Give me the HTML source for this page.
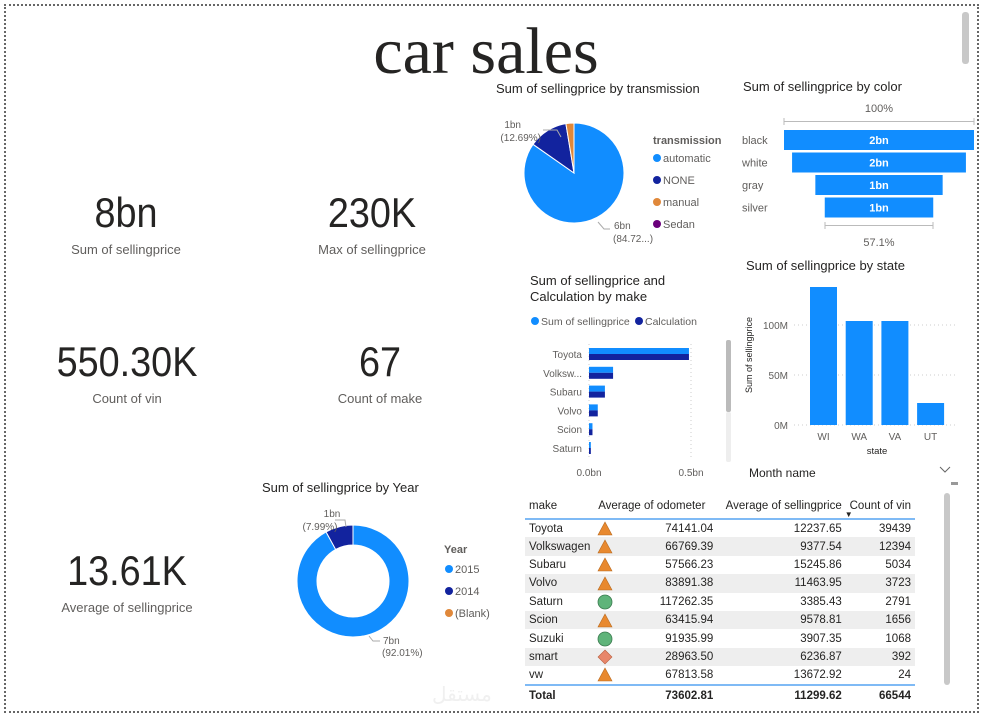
<!DOCTYPE html>
<html><head><meta charset="utf-8">
<style>
body{margin:0;width:982px;height:725px;background:#fff;font-family:"Liberation Sans","DejaVu Sans",sans-serif;position:relative;overflow:hidden;color:#252423}
.abs{position:absolute}
.kpi{position:absolute;text-align:center;width:200px}
.kpi .v{font-size:42px;color:#252423;line-height:46px;transform:scaleX(0.9)}
.kpi .l{font-size:13px;color:#605e5c;margin-top:6px}
table{border-collapse:collapse;font-size:11.5px}
</style></head><body>
<div class="abs" style="left:4px;top:4px;width:971px;height:705px;border:2px dotted #666"></div>
<div class="abs" style="left:962px;top:12px;width:7px;height:52px;background:#c8c8c8;border-radius:3px"></div>
<div class="abs" style="left:236px;top:16px;width:500px;text-align:center;font-family:'Liberation Serif',serif;font-size:66px;color:#252423;line-height:72px">car sales</div>

<div class="kpi" style="left:26px;top:190px"><div class="v">8bn</div><div class="l">Sum of sellingprice</div></div>
<div class="kpi" style="left:272px;top:190px"><div class="v">230K</div><div class="l">Max of sellingprice</div></div>
<div class="kpi" style="left:27px;top:339px"><div class="v">550.30K</div><div class="l">Count of vin</div></div>
<div class="kpi" style="left:280px;top:339px"><div class="v">67</div><div class="l">Count of make</div></div>
<div class="kpi" style="left:27px;top:548px"><div class="v">13.61K</div><div class="l">Average of sellingprice</div></div>

<svg class="abs" style="left:0;top:0" width="982" height="725" id="charts">
<g font-family="Liberation Sans, sans-serif">
<text x="496" y="93" font-size="13" fill="#252423">Sum of sellingprice by transmission</text>
<g id="pie"></g>
<text x="521" y="128" font-size="10" fill="#605e5c" text-anchor="end">1bn</text>
<text x="541" y="141" font-size="10" fill="#605e5c" text-anchor="end">(12.69%)</text>
<polyline points="543,130 557,130 561,137" fill="none" stroke="#aaa"/>
<polyline points="598,222 604,229 610,229" fill="none" stroke="#aaa"/>
<text x="614" y="229" font-size="10" fill="#605e5c">6bn</text>
<text x="613" y="242" font-size="10" fill="#605e5c">(84.72...)</text>
<text x="653" y="144" font-size="11" font-weight="bold" fill="#605e5c">transmission</text>
<g id="pieLeg"></g>

<text x="743" y="91" font-size="13" fill="#252423">Sum of sellingprice by color</text>
<text x="879" y="112" font-size="11" fill="#605e5c" text-anchor="middle">100%</text>
<path d="M784,118v7M784,121.5H974M974,118v7" stroke="#bbb" fill="none"/>
<g id="funnel"></g>
<path d="M825,222v7M825,225.5H933M933,222v7" stroke="#bbb" fill="none"/>
<text x="879" y="246" font-size="11" fill="#605e5c" text-anchor="middle">57.1%</text>

<text x="530" y="285" font-size="13" fill="#252423">Sum of sellingprice and</text>
<text x="530" y="301" font-size="13" fill="#252423">Calculation by make</text>
<circle cx="535" cy="321" r="4" fill="#118dff"/><text x="541" y="325" font-size="10.5" fill="#605e5c">Sum of sellingprice</text>
<circle cx="639" cy="321" r="4" fill="#12239e"/><text x="645" y="325" font-size="10.5" fill="#605e5c">Calculation</text>
<g id="makeBars"></g>
<rect x="726" y="340" width="5" height="72" rx="2" fill="#bbb"/>
<rect x="726" y="412" width="5" height="50" rx="2" fill="#eee"/>

<text x="746" y="270" font-size="13" fill="#252423">Sum of sellingprice by state</text>
<g id="stateBars"></g>
<text x="752" y="355" font-size="9" fill="#252423" text-anchor="middle" transform="rotate(-90 752 355)">Sum of sellingprice</text>
<text x="877" y="454" font-size="9.5" fill="#252423" text-anchor="middle">state</text>

<text x="749" y="477" font-size="12" fill="#252423">Month name</text>
<path d="M940,467l5,5l5,-5" stroke="#666" fill="none"/>
<rect x="951" y="482" width="7" height="3" fill="#999"/>

<text x="262" y="492" font-size="13" fill="#252423">Sum of sellingprice by Year</text>
<g id="donut"></g>
<text x="332" y="517" font-size="10" fill="#605e5c" text-anchor="middle">1bn</text>
<text x="320" y="530" font-size="10" fill="#605e5c" text-anchor="middle">(7.99%)</text>
<polyline points="335,520 345,520 346,527" fill="none" stroke="#aaa"/>
<polyline points="369,636 373,641 380,641" fill="none" stroke="#aaa"/>
<text x="383" y="644" font-size="10" fill="#605e5c">7bn</text>
<text x="382" y="656" font-size="10" fill="#605e5c">(92.01%)</text>
<text x="444" y="553" font-size="11" font-weight="bold" fill="#605e5c">Year</text>
<g id="donutLeg"></g>
</g>
</svg>

<div class="abs" style="left:525px;top:494px;width:390px">
<table id="tbl" style="width:390px">
<thead><tr style="height:25px;border-bottom:2px solid #7fbaf5">
<th style="text-align:left;font-weight:normal;padding-left:4px">make</th>
<th colspan="2" style="text-align:left;font-weight:normal">Average of odometer</th>
<th style="text-align:right;font-weight:normal">Average of sellingprice</th>
<th style="text-align:right;font-weight:normal;padding-right:4px;position:relative">Count of vin<span style="position:absolute;left:2px;top:16px;font-size:8px">▼</span></th>
</tr></thead>
<tbody id="tbody"></tbody>
<tfoot><tr style="height:22px;border-top:2px solid #7fbaf5;font-weight:bold">
<td style="padding-left:4px">Total</td><td></td><td style="text-align:right">73602.81</td><td style="text-align:right">11299.62</td><td style="text-align:right;padding-right:4px">66544</td></tr></tfoot>
</table>
</div>
<div class="abs" style="left:944px;top:493px;width:6px;height:192px;background:#c8c8c8;border-radius:3px"></div>
<div class="abs" style="left:432px;top:682px;font-size:20px;color:#f0f0f0;font-family:'DejaVu Sans',sans-serif">مستقل</div>

<script>
const NS="http://www.w3.org/2000/svg";
function mk(tag,attrs,parent){const e=document.createElementNS(NS,tag);for(const k in attrs)e.setAttribute(k,attrs[k]);parent.appendChild(e);return e;}
// transmission pie
const transCats=["automatic","NONE","manual","Sedan"];
const transVals=[84.72,12.69,2.59,0];
const transColors=["#118dff","#12239e","#e0883a","#6b007b"];
// color funnel
const colorCats=["black","white","gray","silver"];
const colorVals=[2.0,1.83,1.34,1.142];
const colorLabels=["2bn","2bn","1bn","1bn"];
// make bars
const makeCats=["Toyota","Volksw...","Subaru","Volvo","Scion","Saturn"];
const makeSum=[0.49,0.118,0.078,0.043,0.017,0.009];
const makeCalc=[0.49,0.118,0.078,0.043,0.017,0.009];
const makeTicks=[0,0.5];
const makeTickLabels=["0.0bn","0.5bn"];
// state bars
const stateCats=["WI","WA","VA","UT"];
const stateVals=[138,104,104,22];
const stateTicks=[0,50,100];
const stateTickLabels=["0M","50M","100M"];
// year donut
const yearCats=["2015","2014","(Blank)"];
const yearVals=[92.01,7.99,0];
const yearColors=["#118dff","#12239e","#e0883a"];
// table
const tMake=["Toyota","Volkswagen","Subaru","Volvo","Saturn","Scion","Suzuki","smart","vw"];
const tOdo=["74141.04","66769.39","57566.23","83891.38","117262.35","63415.94","91935.99","28963.50","67813.58"];
const tPrice=["12237.65","9377.54","15245.86","11463.95","3385.43","9578.81","3907.35","6236.87","13672.92"];
const tCount=["39439","12394","5034","3723","2791","1656","1068","392","24"];
const tIcon=["tri","tri","tri","tri","circ","tri","circ","dia","tri"];

function arcPath(cx,cy,r,ri,a0,a1){
  const p=(a,rr)=>[cx+rr*Math.sin(a),cy-rr*Math.cos(a)];
  const large=(a1-a0)>Math.PI?1:0;
  const [x0,y0]=p(a0,r),[x1,y1]=p(a1,r);
  if(ri===0)return `M${cx},${cy}L${x0},${y0}A${r},${r} 0 ${large} 1 ${x1},${y1}Z`;
  const [x2,y2]=p(a1,ri),[x3,y3]=p(a0,ri);
  return `M${x0},${y0}A${r},${r} 0 ${large} 1 ${x1},${y1}L${x2},${y2}A${ri},${ri} 0 ${large} 0 ${x3},${y3}Z`;
}
function drawPie(g,vals,colors,cx,cy,r,ri,name){
  const tot=vals.reduce((a,b)=>a+b,0);let a=0;
  vals.forEach((v,i)=>{if(v<=0)return;const a1=a+v/tot*2*Math.PI;
    const el=mk("path",{d:arcPath(cx,cy,r,ri,a,a1),fill:colors[i],stroke:"#fff","stroke-width":1},g);
    
    
    a=a1;});
}
drawPie(document.getElementById("pie"),transVals,transColors,574,173,50,0,"transmission");
const pl=document.getElementById("pieLeg");
transCats.forEach((c,i)=>{const y=158+i*22;mk("circle",{cx:657,cy:y,r:4,fill:transColors[i]},pl);
  const t=mk("text",{x:663,y:y+4,"font-size":11,fill:"#605e5c"},pl);t.textContent=c;
  
  });

drawPie(document.getElementById("donut"),yearVals,yearColors,353,581,56,36,"year");
const dl=document.getElementById("donutLeg");
yearCats.forEach((c,i)=>{const y=569+i*22;mk("circle",{cx:449,cy:y,r:4,fill:yearColors[i]},dl);
  const t=mk("text",{x:455,y:y+4,"font-size":11,fill:"#605e5c"},dl);t.textContent=c;
  
  });

// funnel
const fg=document.getElementById("funnel");const fMax=Math.max(...colorVals);
colorCats.forEach((c,i)=>{const w=colorVals[i]/fMax*190;const y=130+i*22.5;
  const r=mk("rect",{x:879-w/2,y:y,width:w,height:20,fill:"#118dff"},fg);
  
  
  const l=mk("text",{x:742,y:y+14,"font-size":11,fill:"#605e5c"},fg);l.textContent=c;
  const v=mk("text",{x:879,y:y+14,"font-size":11,fill:"#fff","text-anchor":"middle","font-weight":"bold"},fg);v.textContent=colorLabels[i];});

// make bars
const mg=document.getElementById("makeBars");const mx=v=>589+v*204;
makeTicks.forEach((t,i)=>{mk("line",{x1:mx(t),x2:mx(t),y1:344,y2:458,stroke:"#ccc","stroke-dasharray":"1,3"},mg);
  const tx=mk("text",{x:mx(t),y:476,"font-size":10,fill:"#605e5c","text-anchor":"middle"},mg);tx.textContent=makeTickLabels[i];});
makeCats.forEach((c,i)=>{const yc=354+i*18.8;
  const l=mk("text",{x:582,y:yc+4,"font-size":10,fill:"#605e5c","text-anchor":"end"},mg);l.textContent=c;
  const b1=mk("rect",{x:589,y:yc-6,width:mx(makeSum[i])-589,height:6,fill:"#118dff"},mg);
  
  
  const b2=mk("rect",{x:589,y:yc,width:mx(makeCalc[i])-589,height:6,fill:"#12239e"},mg);
  
  });

// state bars
const sg=document.getElementById("stateBars");const sy=v=>425-v*1.0;
stateTicks.forEach((t,i)=>{mk("line",{x1:794,x2:958,y1:sy(t),y2:sy(t),stroke:"#ccc","stroke-dasharray":"1,3"},sg);
  const tx=mk("text",{x:788,y:sy(t)+4,"font-size":10,fill:"#605e5c","text-anchor":"end"},sg);tx.textContent=stateTickLabels[i];});
stateCats.forEach((c,i)=>{const x=810+i*35.7;
  const b=mk("rect",{x:x,y:sy(stateVals[i]),width:27,height:425-sy(stateVals[i]),fill:"#118dff"},sg);
  
  
  const l=mk("text",{x:x+13.5,y:440,"font-size":10,fill:"#605e5c","text-anchor":"middle"},sg);l.textContent=c;});

// table
const tb=document.getElementById("tbody");
const icons={tri:'<svg width="16" height="15"><path d="M8,1L15,14H1Z" fill="#e8892f" stroke="#b86a20" stroke-width="0.6"/></svg>',
circ:'<svg width="16" height="16"><circle cx="8" cy="8" r="7" fill="#5fb47a" stroke="#3b7a4f" stroke-width="0.8"/></svg>',
dia:'<svg width="16" height="16"><path d="M8,1L15,8L8,15L1,8Z" fill="#e8866a" stroke="#b8603f" stroke-width="0.6"/></svg>'};
tMake.forEach((m,i)=>{const tr=document.createElement("tr");tr.style.height="18.4px";tr.style.background=i%2?"#eeeeee":"#fff";
  
  
  tr.innerHTML=`<td style="padding-left:4px">${m}</td><td style="width:20px;padding:0;line-height:0">${icons[tIcon[i]]}</td><td style="text-align:right">${tOdo[i]}</td><td style="text-align:right">${tPrice[i]}</td><td style="text-align:right;padding-right:4px">${tCount[i]}</td>`;
  tb.appendChild(tr);});
</script>
</body></html>
